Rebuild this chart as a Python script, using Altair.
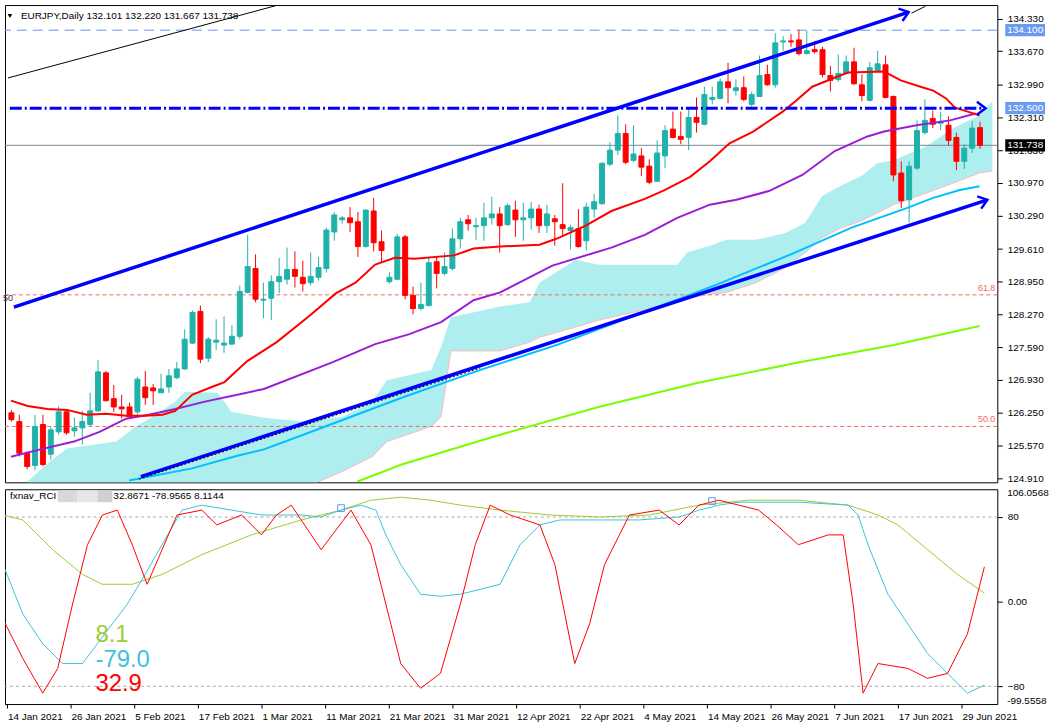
import json
import altair as alt
import pandas as pd

FONT = "Liberation Sans, Arial, sans-serif"
FS = 10
TEAL = "#20B2AA"
RED = "#FF0000"

# ---------------- candles (bar 0 = 14 Jan 2021) ----------------
open_ = [126.25, 126.07, 125.42, 125.17, 126.01, 125.40, 125.86, 126.27, 125.88, 125.94,
         126.01, 126.29, 127.07, 126.54, 126.37, 126.37, 126.27, 126.78, 126.76, 126.66,
         126.78, 126.97, 127.15, 127.68, 128.33, 127.37, 127.70, 127.64, 127.66, 127.82,
         128.72, 129.21, 128.56, 128.60, 128.94, 128.99, 129.19, 129.03, 128.92, 129.03,
         129.21, 129.96, 130.21, 130.25, 130.17, 129.66, 130.39, 129.76, 128.94, 128.99,
         129.86, 128.66, 128.39, 128.45, 129.35, 129.11, 129.21, 129.82, 130.21, 130.07,
         130.09, 130.25, 130.33, 130.11, 130.41, 130.21, 130.25, 130.43, 130.09, 130.23,
         130.11, 129.99, 130.03, 129.78, 130.43, 130.54, 131.35, 131.64, 131.98, 131.43,
         131.52, 131.31, 131.00, 131.52, 132.07, 131.92, 131.90, 132.31, 132.17, 132.68,
         132.70, 133.04, 132.86, 132.92, 132.58, 132.74, 133.19, 132.98, 133.86, 133.88,
         133.90, 133.62, 133.70, 133.70, 133.17, 133.09, 133.21, 133.45, 132.98, 132.66,
         133.27, 133.39, 132.74, 131.17, 130.62, 131.27, 132.00, 132.29, 132.19, 132.15,
         131.90, 131.41, 131.68, 132.101]
high_ = [126.31, 126.21, 125.46, 126.21, 126.21, 125.97, 126.39, 126.31, 126.15, 126.29,
         126.66, 127.33, 127.11, 126.82, 126.62, 126.46, 126.99, 127.11, 126.84, 127.05,
         127.15, 127.29, 127.96, 128.35, 128.45, 127.80, 128.17, 128.23, 128.05, 128.86,
         129.90, 129.50, 128.92, 129.07, 129.43, 129.64, 129.56, 129.37, 129.54, 129.45,
         130.05, 130.37, 130.29, 130.47, 130.37, 130.43, 130.66, 129.99, 129.13, 129.92,
         129.90, 128.84, 128.92, 129.45, 129.45, 129.54, 130.03, 130.25, 130.31, 130.25,
         130.56, 130.68, 130.47, 130.54, 130.60, 130.56, 130.58, 130.52, 130.52, 130.31,
         130.96, 130.11, 130.43, 130.56, 130.74, 131.39, 131.80, 132.35, 132.17, 132.15,
         131.68, 131.45, 131.84, 132.15, 132.43, 132.43, 132.49, 132.72, 132.94, 132.94,
         133.11, 133.43, 133.09, 133.15, 132.84, 133.58, 133.39, 134.04, 133.98, 134.02,
         134.11, 134.09, 133.88, 133.76, 133.37, 133.60, 133.58, 133.74, 133.19, 133.45,
         133.68, 133.58, 132.76, 131.41, 131.41, 132.25, 132.68, 132.45, 132.43, 132.33,
         132.00, 131.76, 132.23, 132.220]
low_ = [126.07, 125.35, 125.09, 125.07, 125.15, 125.29, 125.80, 125.80, 125.76, 125.60,
        125.97, 126.27, 126.48, 126.27, 126.13, 126.13, 126.21, 126.41, 126.41, 126.66,
        126.66, 126.94, 127.13, 127.66, 127.27, 127.29, 127.54, 127.48, 127.64, 127.76,
        128.70, 128.52, 128.19, 128.15, 128.70, 128.88, 128.82, 128.74, 128.86, 128.96,
        129.13, 129.78, 130.13, 129.96, 129.45, 129.64, 129.56, 129.35, 128.90, 128.97,
        128.58, 128.27, 128.35, 128.43, 128.80, 129.07, 129.17, 129.62, 129.99, 129.80,
        129.78, 130.11, 129.54, 130.09, 129.86, 129.78, 130.01, 129.94, 129.94, 129.68,
        129.86, 129.60, 129.64, 129.58, 130.25, 130.52, 131.31, 131.54, 131.35, 131.39,
        131.11, 130.94, 130.98, 131.27, 131.88, 131.76, 131.64, 132.00, 132.15, 132.58,
        132.68, 132.60, 132.76, 132.64, 132.53, 132.74, 132.96, 132.92, 133.68, 133.76,
        133.58, 133.60, 133.62, 133.13, 132.84, 133.04, 133.19, 132.98, 132.64, 132.64,
        133.25, 132.70, 131.00, 130.45, 130.15, 131.23, 131.96, 132.09, 132.05, 131.74,
        131.23, 131.25, 131.58, 131.667]
close_ = [126.11, 125.42, 125.15, 125.97, 125.19, 125.90, 126.27, 125.84, 125.94, 126.07,
          126.29, 127.09, 126.50, 126.37, 126.33, 126.17, 126.94, 126.56, 126.70, 126.74,
          127.01, 127.15, 127.76, 128.31, 127.35, 127.76, 127.74, 127.68, 127.82, 128.74,
          129.25, 128.58, 128.58, 128.94, 129.05, 129.19, 129.05, 128.90, 129.05, 129.23,
          130.00, 130.31, 130.25, 130.15, 129.66, 130.41, 129.74, 129.58, 129.03, 129.86,
          128.66, 128.39, 128.47, 129.33, 129.11, 129.25, 129.82, 130.17, 130.13, 130.09,
          130.25, 130.33, 130.09, 130.50, 130.21, 130.25, 130.43, 130.09, 130.33, 130.17,
          130.03, 130.05, 129.66, 130.47, 130.58, 131.37, 131.64, 131.98, 131.39, 131.56,
          131.29, 130.98, 131.58, 132.04, 131.90, 131.86, 132.31, 132.21, 132.78, 132.72,
          133.04, 132.92, 132.92, 132.68, 132.78, 133.17, 132.98, 133.84, 133.88, 133.86,
          133.62, 133.68, 133.66, 133.19, 133.07, 133.21, 133.45, 133.00, 132.76, 133.33,
          133.41, 132.72, 131.13, 130.60, 131.31, 132.04, 132.25, 132.17, 132.23, 131.84,
          131.41, 131.68, 132.09, 131.738]
bar_k = list(range(len(open_)))

date_ticks = [0, 8, 16, 24, 32, 40, 48, 56, 64, 72, 80, 88, 96, 104, 112, 120]
date_labels = ["14 Jan 2021", "26 Jan 2021", "5 Feb 2021", "17 Feb 2021", "1 Mar 2021",
               "11 Mar 2021", "21 Mar 2021", "31 Mar 2021", "12 Apr 2021", "22 Apr 2021",
               "4 May 2021", "14 May 2021", "26 May 2021", "7 Jun 2021", "17 Jun 2021",
               "29 Jun 2021"]
price_ticks = [134.33, 133.67, 132.99, 132.31, 131.63, 130.97, 130.29, 129.61, 128.95,
               128.27, 127.59, 126.93, 126.25, 125.57, 124.91]

# ---------------- moving averages (bar index, price) ----------------
red_ma_k = [-0.06, 2.06, 4.56, 7.06, 9.56, 12.06, 14.56, 17.06, 19.19, 20.81, 22.94, 25.44,
            27.06, 29.94, 33.69, 37.94, 41.19, 43.69, 46.19, 48.69, 51.19, 56.19, 58.69,
            62.06, 67.06, 69.19, 72.94, 76.19, 80.44, 82.94, 86.19, 88.69, 91.19, 94.19,
            97.94, 99.56, 101.69, 106.19, 110.81, 112.94, 115.44, 117.06, 118.69, 119.81,
            121.44, 122.94]
red_ma_p = [126.50, 126.39, 126.33, 126.31, 126.21, 126.23, 126.19, 126.19, 126.21, 126.29,
            126.62, 126.78, 126.88, 127.31, 127.70, 128.25, 128.70, 128.92, 129.29, 129.43,
            129.41, 129.48, 129.62, 129.66, 129.70, 129.82, 130.09, 130.39, 130.64, 130.82,
            131.09, 131.41, 131.78, 132.02, 132.43, 132.64, 132.94, 133.23, 133.25, 133.07,
            132.94, 132.86, 132.70, 132.51, 132.43, 132.35]
purple_k = [-0.06, 3.69, 7.94, 11.19, 14.56, 17.44, 20.81, 24.56, 28.69, 32.06, 40.81, 46.19,
            50.44, 54.56, 58.69, 62.06, 68.69, 76.19, 80.44, 84.56, 88.69, 92.06, 96.19,
            100.44, 104.56, 108.69, 110.81, 114.94, 119.19, 122.44]
purple_p = [125.35, 125.50, 125.66, 125.86, 126.13, 126.21, 126.33, 126.48, 126.62, 126.74,
            127.29, 127.66, 127.86, 128.11, 128.56, 128.72, 129.27, 129.64, 129.90, 130.25,
            130.52, 130.62, 130.80, 131.13, 131.62, 131.92, 132.02, 132.15, 132.25, 132.39]
cyan_k = [14.94, 22.94, 28.69, 32.06, 37.06, 49.56, 59.56, 69.56, 79.56, 89.56, 99.56,
          106.69, 113.69, 117.06, 120.44, 122.94]
cyan_p = [124.86, 125.11, 125.37, 125.50, 125.80, 126.56, 127.13, 127.66, 128.27, 128.88,
          129.54, 130.05, 130.45, 130.66, 130.82, 130.90]
green_k = [43.94, 49.56, 62.06, 74.56, 87.06, 99.56, 112.06, 122.94]
green_p = [124.84, 125.19, 125.80, 126.37, 126.86, 127.27, 127.64, 128.03]

# ---------------- cloud ----------------
cloud_k = [2.06, 4.56, 7.06, 13.31, 15.81, 18.31, 20.81, 22.06, 26.19, 27.94, 32.06, 37.06,
           42.06, 45.81, 47.69, 53.31, 54.56, 55.81, 62.06, 65.81, 67.06, 71.69, 74.56,
           84.56, 85.81, 88.69, 90.81, 94.56, 98.31, 100.81, 102.94, 105.44, 107.94,
           109.94, 112.06, 116.19, 119.56, 122.94, 124.56]
cloud_top = [124.84, 125.21, 125.52, 125.66, 125.97, 126.21, 126.48, 126.68, 126.66, 126.27,
             126.15, 126.07, 126.17, 126.48, 126.92, 127.13, 127.60, 128.21, 128.43, 128.52,
             128.92, 129.39, 129.29, 129.29, 129.54, 129.68, 129.80, 129.80, 129.94, 130.15,
             130.70, 130.92, 131.11, 131.37, 131.43, 131.72, 132.09, 132.35, 132.64]
cloud_bot = [124.70, 124.70, 124.70, 124.70, 124.70, 124.70, 124.70, 124.70, 124.70, 124.70,
             124.70, 124.70, 125.05, 125.35, 125.66, 125.97, 126.17, 127.52, 127.52, 127.70,
             127.80, 128.01, 128.15, 128.52, 128.60, 128.68, 128.72, 128.92, 129.23, 129.54,
             129.84, 130.05, 130.19, 130.35, 130.52, 130.76, 130.96, 131.17, 131.21]

# ---------------- drawn objects ----------------
upper_k = [0.31, 113.94]
upper_p = [128.42, 134.47]
lower_k = [16.44, 123.94]
lower_p = [124.94, 130.62]
black1_k = [-0.44, 33.5]
black1_p = [133.12, 134.60]
black2_k = [114.3, 116.06]
black2_p = [134.45, 134.59]
dotted_k = [16.19, 59.56]
dotted_p = [124.89, 127.17]
level_1325 = 132.500
level_1325_k = [-0.2, 123.7]
level_1341 = 134.100
last_price = 131.738
fib_levels = [128.67, 125.97]
fib_names = ["61.8", "50.0"]

# ---------------- RCI ----------------
rci_red_k = [-0.44, 2.06, 4.56, 6.44, 8.31, 10.19, 12.06, 13.94, 15.81, 17.69, 19.56, 21.44,
             24.56, 26.44, 29.56, 32.06, 33.94, 35.81, 39.56, 43.31, 45.81, 47.69, 49.56,
             52.06, 54.56, 57.06, 58.94, 60.81, 63.31, 67.06, 68.94, 71.44, 73.31, 75.19,
             78.31, 82.06, 84.56, 87.06, 89.56, 92.06, 94.56, 96.81, 99.56, 103.31, 105.19,
             106.44, 107.69, 109.56, 113.31, 115.81, 118.31, 120.81, 122.94]
rci_red_v = [-16.4, -53.8, -86.5, -63.1, -2.3, 53.8, 81.9, 86.5, 53.8, 16.4, 49.1, 81.9,
             86.5, 72.5, 81.9, 63.1, 81.9, 91.2, 49.1, 86.5, 53.8, -2.3, -58.5, -81.9, -67.8,
             -2.3, 53.8, 91.2, 81.9, 72.5, 35.1, -58.5, -21.0, 35.1, 81.9, 86.5, 72.5, 91.2,
             95.9, 91.2, 86.5, 72.5, 53.8, 63.1, 63.1, -2.3, -86.5, -58.5, -63.1, -72.5,
             -67.8, -30.4, 32.87]
rci_cyan_k = [-0.44, 2.06, 4.56, 7.06, 9.56, 11.44, 13.31, 15.19, 17.06, 19.56, 22.06, 24.56,
              28.31, 32.06, 37.06, 39.56, 42.06, 44.56, 46.44, 47.69, 49.56, 52.06, 54.56,
              57.06, 59.56, 62.06, 64.56, 67.06, 69.56, 74.56, 79.56, 84.56, 87.06, 89.56,
              92.06, 99.56, 105.81, 107.06, 108.31, 110.81, 113.31, 115.81, 118.31, 120.81,
              122.94]
rci_cyan_v = [35.1, -11.7, -39.8, -58.5, -58.5, -39.8, -21.0, -2.3, 21.0, 53.8, 86.5, 91.2,
              86.5, 81.9, 81.9, 80.0, 86.5, 91.2, 86.5, 63.1, 35.1, 7.0, 5.1, 7.0, 11.7, 16.4,
              53.8, 72.5, 77.2, 77.2, 77.2, 80.0, 86.5, 91.2, 94.0, 94.0, 91.2, 81.9, 53.8,
              7.0, -21.0, -49.1, -67.8, -86.5, -78.96]
rci_green_k = [-0.44, 2.06, 5.81, 9.56, 12.06, 15.81, 19.56, 24.56, 30.81, 37.06, 42.06,
               45.81, 49.56, 53.31, 57.06, 62.06, 68.31, 74.56, 80.81, 87.06, 93.31, 99.56,
               105.81, 109.56, 112.06, 115.81, 119.56, 122.94]
rci_green_v = [81.9, 77.2, 49.1, 25.7, 16.4, 16.4, 25.7, 44.4, 63.1, 77.2, 86.5, 95.9, 98.7,
               95.9, 91.2, 86.5, 81.9, 80.0, 81.9, 91.2, 95.9, 95.9, 91.2, 81.9, 72.5, 49.1,
               25.7, 8.11]
rci_last = [32.8671, -78.9565, 8.1144]
rci_marks_k = [42.06, 88.7]
rci_marks_v = [88.4, 95.0]

# =====================================================================
W = 998
H_TOP = 480
H_BOT = 216

xs = alt.Scale(domain=[-0.1875, 124.5625], nice=False, zero=False)
ys = alt.Scale(domain=[124.824, 134.616], nice=False, zero=False)
rs = alt.Scale(domain=[-96.8, 106.2], nice=False, zero=False)

price_axis = alt.Axis(values=price_ticks, format=".3f", orient="right", tickSize=5,
                      labelPadding=5, domain=False, grid=False, labelFont=FONT,
                      labelFontSize=FS, labelColor="black", tickColor="black",
                      labelOverlap=False, labelBound=False, title=None)
expr = "%s[indexof(%s, datum.value)]" % (json.dumps(date_labels), json.dumps(date_ticks))
date_axis = alt.Axis(values=date_ticks, labelExpr=expr, labelAlign="left", labelOffset=1,
                     tickSize=4, labelPadding=4, domain=False, grid=False, labelFont=FONT,
                     labelFontSize=FS, labelColor="black", tickColor="black",
                     labelOverlap=False, labelFlush=False, labelBound=False, title=None)
rci_axis = alt.Axis(values=[80, 0, -80], orient="right", tickSize=5, labelPadding=5,
                    labelExpr="datum.value == 0 ? '0.00' : format(datum.value, 'd')",
                    domain=False, grid=False, labelFont=FONT, labelFontSize=FS,
                    labelColor="black", tickColor="black", labelOverlap=False,
                    labelBound=False, title=None)


def X(f="k"):
    return alt.X(f"{f}:Q", scale=xs, axis=None, title=None)


def XB(f="k"):
    return alt.X(f"{f}:Q", scale=xs, axis=date_axis, title=None)


def Y(f):
    return alt.Y(f"{f}:Q", scale=ys, axis=price_axis, title=None)


def YR(f):
    return alt.Y(f"{f}:Q", scale=rs, axis=rci_axis, title=None)


def series(ks, vs):
    return pd.DataFrame({"k": ks, "p": vs})


candles = pd.DataFrame({"k": bar_k, "o": open_, "h": high_, "l": low_, "c": close_})
candles["dir"] = ["up" if c >= o else "down" for o, c in zip(open_, close_)]
dir_scale = alt.Scale(domain=["up", "down"], range=[TEAL, RED])

cloud_df = pd.DataFrame({"k": cloud_k, "top": cloud_top, "bot": cloud_bot})

layers = []
layers.append(alt.Chart(cloud_df).mark_area(color="#AFEEEE", clip=True).encode(
    x=X(), y=Y("top"), y2="bot"))
layers.append(alt.Chart(cloud_df).mark_line(color="#FFB6C1", strokeWidth=1, clip=True).encode(
    x=X(), y=Y("bot")))

fib_df = pd.DataFrame({"p": fib_levels, "name": fib_names})
layers.append(alt.Chart(fib_df).mark_rule(color="#F26B5B", strokeDash=[4, 3], strokeWidth=1).encode(
    y=Y("p")))
layers.append(alt.Chart(fib_df).mark_text(align="right", baseline="bottom", dy=-2,
                                          color="#F26B5B", font=FONT, fontSize=9).encode(
    x=alt.value(W - 2), y=Y("p"), text="name:N"))
layers.append(alt.Chart(pd.DataFrame({"p": ["50"], "v": [fib_levels[0]]})).mark_text(
    align="right", baseline="middle", dy=3, color="#333333", font=FONT, fontSize=9).encode(
    x=alt.value(8), y=Y("v"), text="p:N"))

layers.append(alt.Chart(pd.DataFrame({"p": [level_1341]})).mark_rule(
    color="#6495ED", strokeDash=[10, 6], strokeWidth=1).encode(y=Y("p")))
layers.append(alt.Chart(pd.DataFrame({"p": [last_price]})).mark_rule(
    color="#778899", strokeWidth=1).encode(y=Y("p")))

# candles
layers.append(alt.Chart(candles).mark_rule(strokeWidth=1).encode(
    x=X(), y=Y("l"), y2="h", color=alt.Color("dir:N", scale=dir_scale, legend=None)))
layers.append(alt.Chart(candles).mark_bar(size=5, strokeWidth=1, orient="vertical").encode(
    x=X(), y=Y("o"), y2="c",
    color=alt.Color("dir:N", scale=dir_scale, legend=None),
    stroke=alt.Stroke("dir:N", scale=dir_scale, legend=None)))

for ks, vs, col in [(green_k, green_p, "#7CFC00"), (cyan_k, cyan_p, "#00BFFF"),
                    (purple_k, purple_p, "#9A1DD6"), (red_ma_k, red_ma_p, "#FF0000")]:
    layers.append(alt.Chart(series(ks, vs)).mark_line(color=col, strokeWidth=2, clip=True).encode(
        x=X(), y=Y("p")))

for ks, vs in [(upper_k, upper_p), (lower_k, lower_p)]:
    layers.append(alt.Chart(series(ks, vs)).mark_line(color="#0000FF", strokeWidth=3.5, clip=True).encode(
        x=X(), y=Y("p")))
for ks, vs in [(black1_k, black1_p), (black2_k, black2_p)]:
    layers.append(alt.Chart(series(ks, vs)).mark_line(color="black", strokeWidth=1, clip=True).encode(
        x=X(), y=Y("p")))
layers.append(alt.Chart(series(dotted_k, dotted_p)).mark_line(
    color="black", strokeWidth=1, strokeDash=[2, 2], clip=True).encode(x=X(), y=Y("p")))

layers.append(alt.Chart(pd.DataFrame({"k0": [level_1325_k[0]], "k1": [level_1325_k[1]],
                                      "p": [level_1325]})).mark_rule(
    color="#0000FF", strokeWidth=3, strokeDash=[12, 3, 2, 3]).encode(
    x=X("k0"), x2="k1", y=Y("p")))

arrow_df = pd.DataFrame({"k": [upper_k[1], lower_k[1], level_1325_k[1]],
                         "p": [upper_p[1], lower_p[1], level_1325],
                         "ang": [342, 342, 0]})
layers.append(alt.Chart(arrow_df).mark_point(
    shape="M -1 -0.75 L 0 0 L -1 0.75", filled=False, strokeWidth=2.5, size=300,
    color="#0000FF", opacity=1).encode(
    x=X(), y=Y("p"), angle=alt.Angle("ang:Q", scale=None)))

# header
hdr = "EURJPY,Daily  " + " ".join(f"{v:.3f}" for v in [open_[-1], high_[-1], low_[-1], close_[-1]])
layers.append(alt.Chart(pd.DataFrame({"t": [hdr]})).mark_text(
    align="left", baseline="middle", font=FONT, fontSize=10, color="black").encode(
    x=alt.value(16), y=alt.value(11), text="t:N"))
layers.append(alt.Chart(pd.DataFrame({"t": ["x"]})).mark_point(
    shape="triangle-down", filled=True, size=22, color="black", opacity=1).encode(
    x=alt.value(5), y=alt.value(11)))

# price-axis highlight boxes
box_df = pd.DataFrame({"p": [level_1341, level_1325, last_price],
                       "fill": ["#6A9BF0", "#6A9BF0", "black"]})
box_df["txt"] = [f"{v:.3f}" for v in box_df["p"]]
layers.append(alt.Chart(box_df).transform_calculate(
    lo="datum.p - 0.125", hi="datum.p + 0.125").mark_rect().encode(
    x=alt.value(W + 8), x2=alt.value(W + 48), y=Y("lo"), y2="hi",
    color=alt.Color("fill:N", scale=None)))
layers.append(alt.Chart(box_df).mark_text(
    align="left", baseline="middle", font=FONT, fontSize=FS, color="white").encode(
    x=alt.value(W + 10), y=Y("p"), text="txt:N"))

top = alt.layer(*layers).properties(width=W, height=H_TOP)

# ---------------- RCI panel ----------------
bl = []
bl.append(alt.Chart(pd.DataFrame({"v": [80, -80]})).mark_rule(
    color="#A8A8A8", strokeDash=[3, 3], strokeWidth=1).encode(y=YR("v")))
for ks, vs, col in [(rci_green_k, rci_green_v, "#9ACD32"), (rci_cyan_k, rci_cyan_v, "#3CC3DA"),
                    (rci_red_k, rci_red_v, "#FF0000")]:
    bl.append(alt.Chart(pd.DataFrame({"k": ks, "v": vs})).mark_line(
        color=col, strokeWidth=1, clip=True).encode(x=XB(), y=YR("v")))
bl.append(alt.Chart(pd.DataFrame({"k": rci_marks_k, "v": rci_marks_v})).mark_point(
    shape="square", filled=False, size=45, color="#6495ED", strokeWidth=1, opacity=1).encode(
    x=XB(), y=YR("v")))

bl.append(alt.Chart(pd.DataFrame({"t": ["fxnav_RCI"]})).mark_text(
    align="left", baseline="middle", font=FONT, fontSize=10, color="black").encode(
    x=alt.value(5), y=alt.value(7), text="t:N"))
blocks = pd.DataFrame({"x0": [53, 73, 93], "x1": [73, 93, 108],
                       "c": ["#D8D8D8", "#E6E6E6", "#D0D0D0"]})
bl.append(alt.Chart(blocks).mark_rect().encode(
    x=alt.X("x0:Q", scale=None, axis=None), x2="x1:Q",
    y=alt.value(1), y2=alt.value(13),
    color=alt.Color("c:N", scale=None)))
bl.append(alt.Chart(pd.DataFrame({"t": [" ".join(f"{v:.4f}" for v in rci_last)]})).mark_text(
    align="left", baseline="middle", font=FONT, fontSize=10, color="black").encode(
    x=alt.value(109), y=alt.value(7), text="t:N"))

big = pd.DataFrame({"t": [f"{rci_last[2]:.1f}", f"{rci_last[1]:.1f}", f"{rci_last[0]:.1f}"],
                    "row": [0, 1, 2], "c": ["#9ACD32", "#3CC3DA", "#FF0000"]})
for i in range(3):
    bl.append(alt.Chart(big[big.row == i]).mark_text(
        align="left", baseline="middle", font=FONT, fontSize=24).encode(
        x=alt.value(91), y=alt.value(147 + 24.5 * i), text="t:N",
        color=alt.Color("c:N", scale=None)))

minmax = pd.DataFrame({"t": ["106.0568", "-99.5558"], "yy": [4, 213]})
for i in range(2):
    bl.append(alt.Chart(minmax.iloc[[i]]).mark_text(
        align="left", baseline="middle", font=FONT, fontSize=FS, color="black").encode(
        x=alt.value(W + 10), y=alt.value(int(minmax.yy[i])), text="t:N"))

bottom = alt.layer(*bl).properties(width=W, height=H_BOT)

chart = alt.vconcat(top, bottom, spacing=3).properties(
    padding={"left": 2, "top": 1, "right": 0, "bottom": 0}, background="white"
).configure_view(stroke="black", strokeWidth=1)

chart.save("out.html", embed_options={"renderer": "svg", "actions": False})
